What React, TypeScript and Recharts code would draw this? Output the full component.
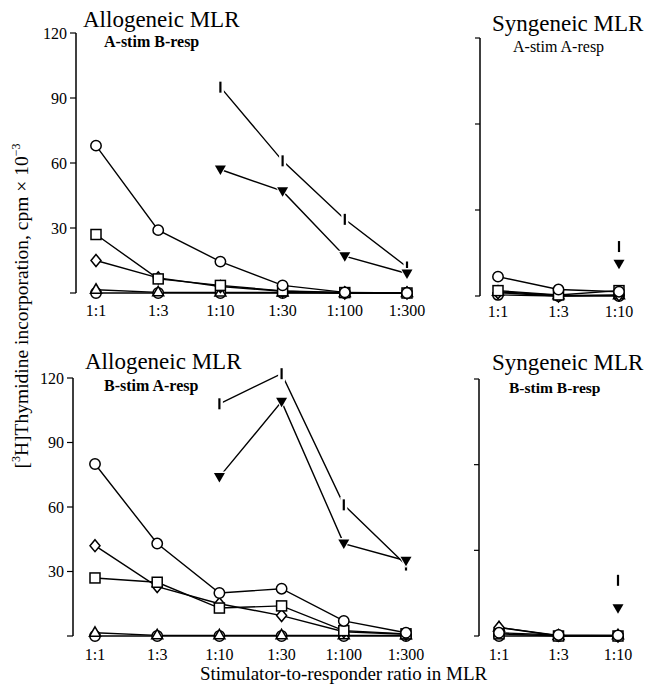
import React from 'react';
import { LineChart, Line, XAxis, YAxis } from 'recharts';

const font = "'Liberation Serif', 'DejaVu Serif', serif";

// x categories
const alloRatios = ['1:1', '1:3', '1:10', '1:30', '1:100', '1:300'];
const synRatios = ['1:1', '1:3', '1:10'];

// Allogeneic, A-stim B-resp
const circleAB = [68, 29, 14.5, 3.5, 0.3, 0];
const squareAB = [27, 6.5, 3.5, 1, 0.2, 0];
const diamondAB = [15, 7, 3, 0.8, 0, 0];
const triangleAB = [1.5, 0.3, 0.2, 0.2, 0, 0];
const ctrlAB = [0, 0, 0, 0, 0, 0];
const downAB = [null, null, 57, 47, 17, 9];
const barAB = [null, null, 95, 61, 34, 12];

// Syngeneic, A-stim A-resp
const circleAA = [9, 3, 2];
const squareAA = [2.5, 0.5, 2.5];
const diamondAA = [1.5, 0, 0.5];
const triangleAA = [2, 0.3, 0.3];
const ctrlAA = [0.5, 0, 0];
const downAA = [null, null, 15];
const barAA = [null, null, 23];

// Allogeneic, B-stim A-resp
const circleBA = [80, 43, 20, 22, 7, 1.5];
const squareBA = [27, 25, 13, 14, 2.5, 1];
const diamondBA = [42, 23, 15, 9.5, 2, 0.8];
const triangleBA = [1.5, 0.3, 0.3, 0.3, 0.3, 0.3];
const ctrlBA = [0, 0, 0, 0, 0, 0];
const downBA = [null, null, 74, 109, 43, 35];
const barBA = [null, null, 108, 122, 61, 33];

// Syngeneic, B-stim B-resp
const circleBB = [1.5, 0.5, 0.3];
const squareBB = [1, 0, 0];
const diamondBB = [4, 0.3, 0];
const triangleBB = [4, 0, 0.3];
const ctrlBB = [0, 0, 0];
const downBB = [null, null, 13];
const barBB = [null, null, 26];

const alloTicks = [0, 30, 60, 90, 120];
const synTicks = [0, 40, 80, 120];

function build(ratios: string[], s: (number | null)[][]) {
  return ratios.map((ratio, i) => ({
    ratio,
    ctrl: s[0][i],
    triangle: s[1][i],
    diamond: s[2][i],
    square: s[3][i],
    circle: s[4][i],
    bar: s[5][i],
    down: s[6][i],
  }));
}

const dataAB = build(alloRatios, [ctrlAB, triangleAB, diamondAB, squareAB, circleAB, barAB, downAB]);
const dataAA = build(synRatios, [ctrlAA, triangleAA, diamondAA, squareAA, circleAA, barAA, downAA]);
const dataBA = build(alloRatios, [ctrlBA, triangleBA, diamondBA, squareBA, circleBA, barBA, downBA]);
const dataBB = build(synRatios, [ctrlBB, triangleBB, diamondBB, squareBB, circleBB, barBB, downBB]);

const renderDot = (kind: string) => (props: any) => {
  const { cx, cy, index } = props;
  const key = `${kind}-${index}`;
  if (cx == null || cy == null || isNaN(cy)) return <g key={key} />;
  const st = { fill: '#fff', stroke: '#000', strokeWidth: 1.5 };
  switch (kind) {
    case 'circle':
    case 'ctrl':
      return <circle key={key} cx={cx} cy={cy} r={5.2} {...st} />;
    case 'square':
      return <rect key={key} x={cx - 5} y={cy - 5} width={10} height={10} {...st} />;
    case 'diamond':
      return <polygon key={key} points={`${cx},${cy - 6} ${cx + 5},${cy} ${cx},${cy + 6} ${cx - 5},${cy}`} {...st} />;
    case 'triangle':
      return <polygon key={key} points={`${cx},${cy - 6} ${cx + 5.5},${cy + 3.5} ${cx - 5.5},${cy + 3.5}`} {...st} />;
    case 'down':
      return (
        <g key={key}>
          <polygon points={`${cx - 7.5},${cy - 5.5} ${cx + 7.5},${cy - 5.5} ${cx},${cy + 7.5}`} fill="#fff" />
          <polygon points={`${cx - 5.5},${cy - 4} ${cx + 5.5},${cy - 4} ${cx},${cy + 5.5}`} fill="#000" />
        </g>
      );
    case 'bar':
      return (
        <g key={key}>
          <rect x={cx - 3.5} y={cy - 8} width={7} height={16} fill="#fff" />
          <line x1={cx} y1={cy - 5.5} x2={cx} y2={cy + 5.5} stroke="#000" strokeWidth={2.2} />
        </g>
      );
  }
  return <g key={key} />;
};

const seriesKeys = ['ctrl', 'triangle', 'diamond', 'square', 'circle', 'bar', 'down'];

type PanelProps = {
  data: any[];
  left: number;
  top: number;
  width: number;
  height: number;
  margin: { top: number; right: number; bottom: number; left: number };
  yWidth: number;
  ticks: number[];
  labels: boolean;
  pad: number;
  tickMargin: number;
  axisDash?: string;
};

function Panel({ data, left, top, width, height, margin, yWidth, ticks, labels, pad, tickMargin, axisDash }: PanelProps) {
  return (
    <div style={{ position: 'absolute', left, top }}>
      <LineChart width={width} height={height} data={data} margin={margin} style={{ fontFamily: font }}>
        <XAxis
          dataKey="ratio"
          axisLine={false}
          tickLine={false}
          tickSize={0}
          tickMargin={tickMargin}
          interval={0}
          padding={{ left: pad, right: pad }}
          height={30}
          tick={{ fill: '#000', fontSize: 16, fontFamily: font }}
        />
        <YAxis
          domain={[0, 120]}
          ticks={ticks}
          width={yWidth}
          axisLine={{ stroke: '#000', strokeWidth: 1.5, strokeDasharray: axisDash }}
          tickLine={{ stroke: '#000', strokeWidth: 1.2 }}
          tickSize={labels ? 6 : 5}
          tickMargin={3}
          tickFormatter={(v: number) => (labels && v !== 0 ? String(v) : '')}
          tick={{ fill: '#000', fontSize: 16, fontFamily: font }}
        />
        {seriesKeys.map((k) => (
          <Line
            key={k}
            dataKey={k}
            stroke="#000"
            strokeWidth={1.4}
            dot={renderDot(k)}
            activeDot={false}
            isAnimationActive={false}
          />
        ))}
      </LineChart>
    </div>
  );
}

export default function App() {
  return (
    <div style={{ position: 'absolute', left: 0, top: 0, width: 647, height: 687, background: '#fff', fontFamily: font }}>
      <Panel data={dataAB} left={0} top={0} width={440} height={330}
        margin={{ top: 33, right: 13, bottom: 7, left: 0 }} yWidth={76} ticks={alloTicks} labels pad={20} tickMargin={12} />
      <Panel data={dataAA} left={440} top={0} width={207} height={330}
        margin={{ top: 38, right: 10, bottom: 4, left: 0 }} yWidth={40} ticks={synTicks} labels={false} pad={18} tickMargin={10} />
      <Panel data={dataBA} left={0} top={340} width={440} height={340}
        margin={{ top: 33.7, right: 12, bottom: 14, left: 0 }} yWidth={73} ticks={alloTicks} labels pad={22} tickMargin={13}
        axisDash="0 4.3 400" />
      <Panel data={dataBB} left={440} top={340} width={207} height={340}
        margin={{ top: 39, right: 9, bottom: 14, left: 0 }} yWidth={39} ticks={synTicks} labels={false} pad={20} tickMargin={13} />
      <svg width={647} height={687} style={{ position: 'absolute', left: 0, top: 0, pointerEvents: 'none', fontFamily: font }}
        fill="#000">
        <text x={83} y={27} fontSize={23}>Allogeneic MLR</text>
        <text x={104} y={47} fontSize={16} fontWeight="bold">A-stim B-resp</text>
        <text x={492} y={31} fontSize={23}>Syngeneic MLR</text>
        <text x={513} y={52} fontSize={16}>A-stim A-resp</text>
        <text x={85} y={369} fontSize={23}>Allogeneic MLR</text>
        <text x={104} y={391} fontSize={16} fontWeight="bold">B-stim A-resp</text>
        <text x={492} y={370} fontSize={23}>Syngeneic MLR</text>
        <text x={509} y={393} fontSize={15.5} fontWeight="bold">B-stim B-resp</text>
        <text x={200} y={680} fontSize={19}>Stimulator-to-responder ratio in MLR</text>
        <text transform="translate(28,306) rotate(-90)" textAnchor="middle" fontSize={19.5}>
          [<tspan fontSize={12} dy={-8}>3</tspan><tspan dy={8}>H]Thymidine incorporation, cpm × 10</tspan><tspan fontSize={12} dy={-8}>−3</tspan>
        </text>
      </svg>
    </div>
  );
}
